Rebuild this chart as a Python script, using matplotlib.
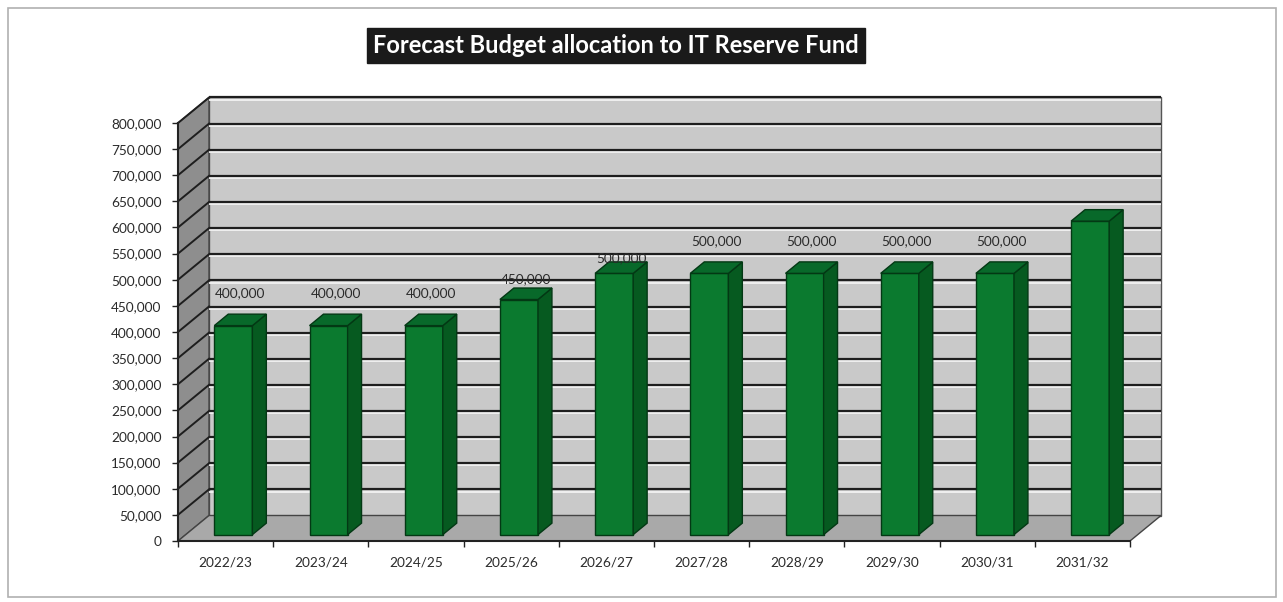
import matplotlib
matplotlib.use("Agg")
import matplotlib.pyplot as plt
from matplotlib.patches import Polygon, Rectangle
from matplotlib.ticker import FuncFormatter, MultipleLocator, FixedLocator

years = ["2022/23", "2023/24", "2024/25", "2025/26", "2026/27",
         "2027/28", "2028/29", "2029/30", "2030/31", "2031/32"]
allocation = [400000, 400000, 400000, 450000, 500000,
              500000, 500000, 500000, 500000, 600000]
# the 2031/32 label is not shown on the chart
show_label = [True] * 9 + [False]

Y_MAX = 800000
Y_STEP = 50000

FRONT_GREEN = "#0b7a2f"
SIDE_GREEN = "#065a20"
TOP_GREEN = "#08692a"
EDGE_GREEN = "#033814"
TEXT = "#2b2b2b"

plt.rcParams["font.family"] = ["Lato", "DejaVu Sans"]

W, H = 1283, 602
fig = plt.figure(figsize=(W / 100, H / 100), dpi=100)

# outer frame
fig.patches.append(Rectangle((8 / W, 5 / H), 1268 / W, 589 / H, transform=fig.transFigure,
                             fill=False, edgecolor="#b0b0b0", linewidth=1.2))

# plot area in pixels: front-left corner at x=178, value axis from y=541 (0) up to y=123
left, right, bottom_px, top_px = 178, 1130, 541, 123
ax = fig.add_axes([left / W, (H - bottom_px) / H, (right - left) / W, (bottom_px - top_px) / H])
ax.set_xlim(-0.5, len(years) - 0.5)
ax.set_ylim(0, Y_MAX)
ax.patch.set_visible(False)

# depth of the 3D box, converted from pixels into data units
px_x = len(years) / (right - left)
px_y = Y_MAX / (bottom_px - top_px)
ddx = 31 * px_x
ddy = 25.5 * px_y

x0, x1 = -0.5, len(years) - 0.5

# walls and floor
back = Polygon([(x0 + ddx, ddy), (x1 + ddx, ddy), (x1 + ddx, Y_MAX + ddy), (x0 + ddx, Y_MAX + ddy)],
               closed=True, facecolor="#c9c9c9", edgecolor="#555555", linewidth=1.0, clip_on=False, zorder=1)
side = Polygon([(x0, 0), (x0 + ddx, ddy), (x0 + ddx, Y_MAX + ddy), (x0, Y_MAX)],
               closed=True, facecolor="#8e8e8e", edgecolor="#444444", linewidth=1.0, clip_on=False, zorder=1)
floor = Polygon([(x0, 0), (x1, 0), (x1 + ddx, ddy), (x0 + ddx, ddy)],
                closed=True, facecolor="#a9a9a9", edgecolor="#444444", linewidth=1.0, clip_on=False, zorder=1)
for p in (back, side, floor):
    ax.add_patch(p)

# gridlines on back wall and side wall
for v in range(Y_STEP, Y_MAX + 1, Y_STEP):
    ax.plot([x0 + ddx, x1 + ddx], [v + ddy - 2.2 * px_y] * 2, color="#f2f2f2", lw=1.3,
            clip_on=False, zorder=2, solid_capstyle="butt")
    ax.plot([x0 + ddx, x1 + ddx], [v + ddy] * 2, color="#1e1e1e", lw=1.6,
            clip_on=False, zorder=3, solid_capstyle="butt")
    ax.plot([x0, x0 + ddx], [v, v + ddy], color="#1e1e1e", lw=1.4, clip_on=False, zorder=3)

# bars: front face at depth f0, back at depth f1
f0, f1 = 0.25, 0.70
bw = 0.40
xs = [i + f0 * ddx for i in range(len(years))]
ax.bar(xs, allocation, width=bw, bottom=f0 * ddy, color=FRONT_GREEN,
       edgecolor=EDGE_GREEN, linewidth=1.0, zorder=5, clip_on=False)

sx, sy = (f1 - f0) * ddx, (f1 - f0) * ddy
for x, v in zip(xs, allocation):
    xl, xr = x - bw / 2, x + bw / 2
    yb, yt = f0 * ddy, v + f0 * ddy
    ax.add_patch(Polygon([(xr, yb), (xr + sx, yb + sy), (xr + sx, yt + sy), (xr, yt)], closed=True,
                         facecolor=SIDE_GREEN, edgecolor=EDGE_GREEN, linewidth=1.0, zorder=5, clip_on=False))
    ax.add_patch(Polygon([(xl, yt), (xl + sx, yt + sy), (xr + sx, yt + sy), (xr, yt)], closed=True,
                         facecolor=TOP_GREEN, edgecolor=EDGE_GREEN, linewidth=1.0, zorder=5, clip_on=False))

# value labels, a couple of them sit lower as on the original sheet
label_drop = {3: 12, 4: 17}
for i, (v, show) in enumerate(zip(allocation, show_label)):
    if not show:
        continue
    lift = 39 - label_drop.get(i, 0)
    ax.text(i + (f0 + f1) / 2 * ddx, v + lift * px_y, f"{v:,}", ha="center", va="center",
            fontsize=9.8, color=TEXT, zorder=6)

# axes styling
for s in ("top", "right"):
    ax.spines[s].set_visible(False)
for s in ("left", "bottom"):
    ax.spines[s].set_color("#222222")
    ax.spines[s].set_linewidth(1.5)
    ax.spines[s].set_zorder(4)

ax.yaxis.set_major_locator(MultipleLocator(Y_STEP))
ax.yaxis.set_major_formatter(FuncFormatter(lambda v, _: f"{int(v):,}"))
ax.tick_params(axis="y", direction="out", length=4, width=1, color="#222222",
               labelsize=9.8, labelcolor=TEXT, pad=8)

ax.set_xticks(range(len(years)))
ax.set_xticklabels(years)
ax.xaxis.set_minor_locator(FixedLocator([i - 0.5 for i in range(len(years) + 1)]))
ax.tick_params(axis="x", which="major", length=0, labelsize=9.8, labelcolor=TEXT, pad=11)
ax.tick_params(axis="x", which="minor", direction="out", length=4, width=1, color="#222222")

# title in a black box
tx0, ty0, tw, th = 367, 28, 498, 35
fig.patches.append(Rectangle((tx0 / W, (H - ty0 - th) / H), tw / W, th / H, transform=fig.transFigure,
                             facecolor="#1a1a1a", edgecolor="#1a1a1a"))
fig.text((tx0 + tw / 2) / W, (H - ty0 - th / 2) / H, "Forecast Budget allocation to IT Reserve Fund",
         ha="center", va="center", color="white", fontsize=17, fontweight="bold")

fig.savefig("out.png", dpi=100, facecolor="white")
